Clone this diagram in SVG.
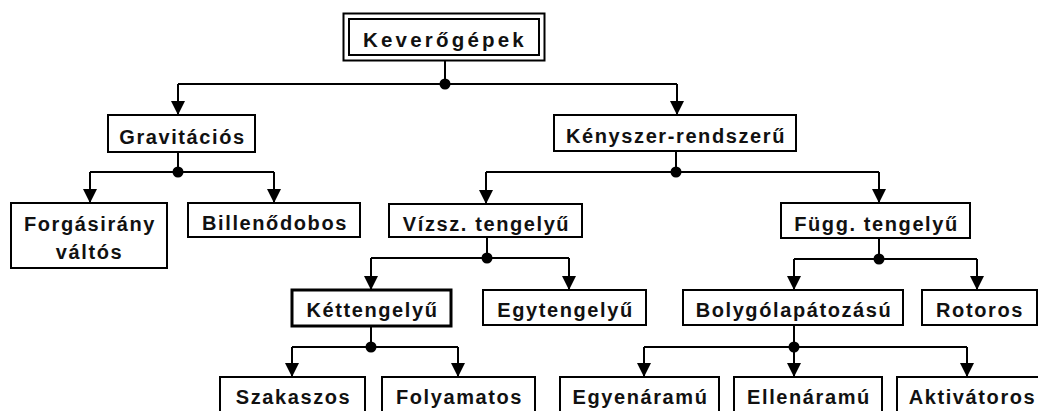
<svg xmlns="http://www.w3.org/2000/svg" width="1038" height="411" viewBox="0 0 1038 411">
<defs>
<marker id="ah" markerUnits="userSpaceOnUse" markerWidth="14" markerHeight="14" refX="14" refY="7" orient="auto">
<path d="M0,0 L14,7 L0,14 z" fill="#000"/>
</marker>
<style>
.box{fill:#fff;stroke:#000;stroke-width:2}
.thick{stroke-width:3}
.t{font-family:"Liberation Sans",Arial,sans-serif;font-weight:bold;font-size:20px;letter-spacing:1.6px;text-anchor:middle;fill:#111}
.tt{font-size:20.5px;letter-spacing:3.2px}
.c{fill:none;stroke:#000;stroke-width:2}
.a{fill:none;stroke:#000;stroke-width:2;marker-end:url(#ah)}
.d{fill:#000}
</style>
</defs>
<rect width="1038" height="411" fill="#fff"/>
<g id="connectors">
<path class="c" d="M445,61 V84 M178,84 H677"/>
<path class="a" d="M178,84 V115"/>
<path class="a" d="M677,84 V115"/>
<circle class="d" cx="445" cy="84" r="5.5"/>
<path class="c" d="M178,152 V172 M90,172 H274"/>
<path class="a" d="M90,172 V203"/>
<path class="a" d="M274,172 V203"/>
<circle class="d" cx="178" cy="172" r="5.5"/>
<path class="c" d="M676,151 V172 M486,172 H879"/>
<path class="a" d="M486,172 V204"/>
<path class="a" d="M879,172 V203"/>
<circle class="d" cx="676" cy="172" r="5.5"/>
<path class="c" d="M487,237 V258 M371,258 H569"/>
<path class="a" d="M371,258 V290"/>
<path class="a" d="M569,258 V290"/>
<circle class="d" cx="487" cy="258" r="5.5"/>
<path class="c" d="M879,238 V259 M794,259 H977"/>
<path class="a" d="M794,259 V290"/>
<path class="a" d="M977,259 V290"/>
<circle class="d" cx="879" cy="259" r="5.5"/>
<path class="c" d="M371,326 V347 M292,347 H458"/>
<path class="a" d="M292,347 V377"/>
<path class="a" d="M458,347 V377"/>
<circle class="d" cx="371" cy="347" r="5.5"/>
<path class="c" d="M794,325 V347 M644,347 H967"/>
<path class="a" d="M644,347 V377"/>
<path class="a" d="M794,347 V377"/>
<path class="a" d="M967,347 V377"/>
<circle class="d" cx="794" cy="347" r="5.5"/>
</g>
<g id="keverogepek">
<rect class="box" x="343.5" y="13.5" width="201" height="47" stroke-width="2.5"/>
<rect class="box" x="349" y="19" width="190" height="36"/>
<text class="t tt" x="445" y="47">Keverőgépek</text>
</g>
<g id="gravitacios">
<rect class="box" x="108" y="115" width="147" height="37"/>
<text class="t" x="182.5" y="143.5">Gravitációs</text>
</g>
<g id="kenyszer">
<rect class="box" x="554" y="115" width="242" height="36"/>
<text class="t" x="676" y="143">Kényszer-rendszerű</text>
</g>
<g id="forgasirany">
<rect class="box" x="11" y="203" width="156" height="65"/>
<text class="t" x="90" y="231">Forgásirány</text>
<text class="t" x="89.5" y="259">váltós</text>
</g>
<g id="billenodobos">
<rect class="box" x="188" y="203" width="172" height="34"/>
<text class="t" x="275" y="230">Billenődobos</text>
</g>
<g id="vizsz">
<rect class="box" x="389" y="204" width="193" height="33"/>
<text class="t" x="486.5" y="231">Vízsz. tengelyű</text>
</g>
<g id="fugg">
<rect class="box" x="781" y="203" width="189" height="35"/>
<text class="t" x="876.5" y="231">Függ. tengelyű</text>
</g>
<g id="kettengelyu">
<rect class="box thick" x="292" y="290" width="159" height="36"/>
<text class="t" x="372.5" y="317">Kéttengelyű</text>
</g>
<g id="egytengelyu">
<rect class="box" x="483" y="290" width="163" height="35"/>
<text class="t" x="565.5" y="317">Egytengelyű</text>
</g>
<g id="bolygo">
<rect class="box" x="683" y="290" width="220" height="35"/>
<text class="t" x="794" y="317">Bolygólapátozású</text>
</g>
<g id="rotoros">
<rect class="box" x="922" y="290" width="115" height="35"/>
<text class="t" x="980" y="317">Rotoros</text>
</g>
<g id="szakaszos">
<rect class="box" x="220" y="377" width="145" height="50"/>
<text class="t" x="293.5" y="404">Szakaszos</text>
</g>
<g id="folyamatos">
<rect class="box" x="382" y="377" width="153" height="50"/>
<text class="t" x="459.5" y="404">Folyamatos</text>
</g>
<g id="egyenaramu">
<rect class="box" x="560" y="377" width="159" height="50"/>
<text class="t" x="640.5" y="404">Egyenáramú</text>
</g>
<g id="ellenaramu">
<rect class="box" x="734" y="377" width="148" height="50"/>
<text class="t" x="809" y="404">Ellenáramú</text>
</g>
<g id="aktivatoros">
<rect class="box" x="897" y="377" width="150" height="50"/>
<text class="t" x="972.5" y="404">Aktivátoros</text>
</g>
</svg>
